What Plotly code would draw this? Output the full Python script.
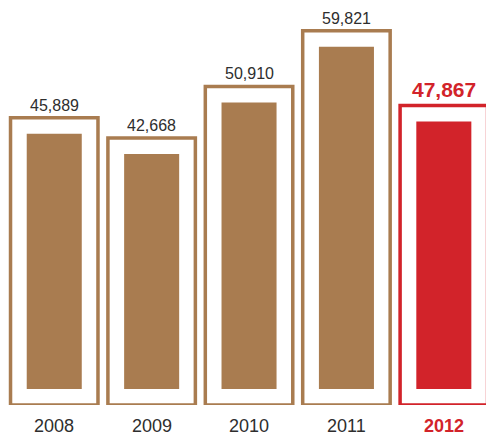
import plotly.graph_objects as go

# Yearly totals
years = ["2008", "2009", "2010", "2011", "2012"]
values = [45889, 42668, 50910, 59821, 47867]

BROWN = "#a97c50"
RED = "#d2232a"
TEXT = "#2e2e2e"

colors = [BROWN] * 4 + [RED]
label_colors = [TEXT] * 4 + [RED]

# Plot area geometry (px) used to translate the inner-bar inset into data units
plot_h = 405
y_max = 64728
inset = 16 * y_max / plot_h

x_idx = list(range(len(years)))

fig = go.Figure()

# Outlined frame whose height is the value
fig.add_trace(go.Bar(
    x=x_idx, y=values, width=0.898,
    marker=dict(color="white", line=dict(color=colors, width=3.5)),
    hoverinfo="skip", showlegend=False,
))

# Solid bar set inside the frame
fig.add_trace(go.Bar(
    x=x_idx, y=[v - 2 * inset for v in values], base=[inset] * len(values),
    width=0.565,
    marker=dict(color=colors, line=dict(width=0)),
    hoverinfo="skip", showlegend=False,
))

# Value labels above each frame
for i, (v, c) in enumerate(zip(values, label_colors)):
    last = i == len(values) - 1
    fig.add_annotation(
        x=i, y=v, xref="x", yref="y",
        text=f"<b>{v:,}</b>" if last else f"{v:,}",
        showarrow=False, yanchor="bottom", yshift=3 if not last else 4,
        borderpad=0,
        font=dict(family="Liberation Sans, Arial, sans-serif",
                  size=21 if last else 16, color=c),
    )

# Year labels under the frames
tick_text = [f"<b>{y}</b>" if i == len(years) - 1 else y for i, y in enumerate(years)]
for i, (t, c) in enumerate(zip(tick_text, label_colors)):
    fig.add_annotation(
        x=i, y=0, xref="x", yref="paper",
        text=t, showarrow=False, yanchor="middle", yshift=-21,
        borderpad=0,
        font=dict(family="Liberation Sans, Arial, sans-serif", size=18, color=c),
    )

fig.update_layout(
    width=486, height=436,
    margin=dict(l=0, r=0, t=0, b=31, pad=0),
    barmode="overlay",
    plot_bgcolor="white", paper_bgcolor="white",
    xaxis=dict(range=[-0.557, 4.433], showgrid=False, zeroline=False,
               showticklabels=False, showline=False, fixedrange=True),
    yaxis=dict(range=[0, y_max], showgrid=False, zeroline=False,
               showticklabels=False, showline=False, fixedrange=True),
)

fig.write_html("out.html", config={"displayModeBar": False})
